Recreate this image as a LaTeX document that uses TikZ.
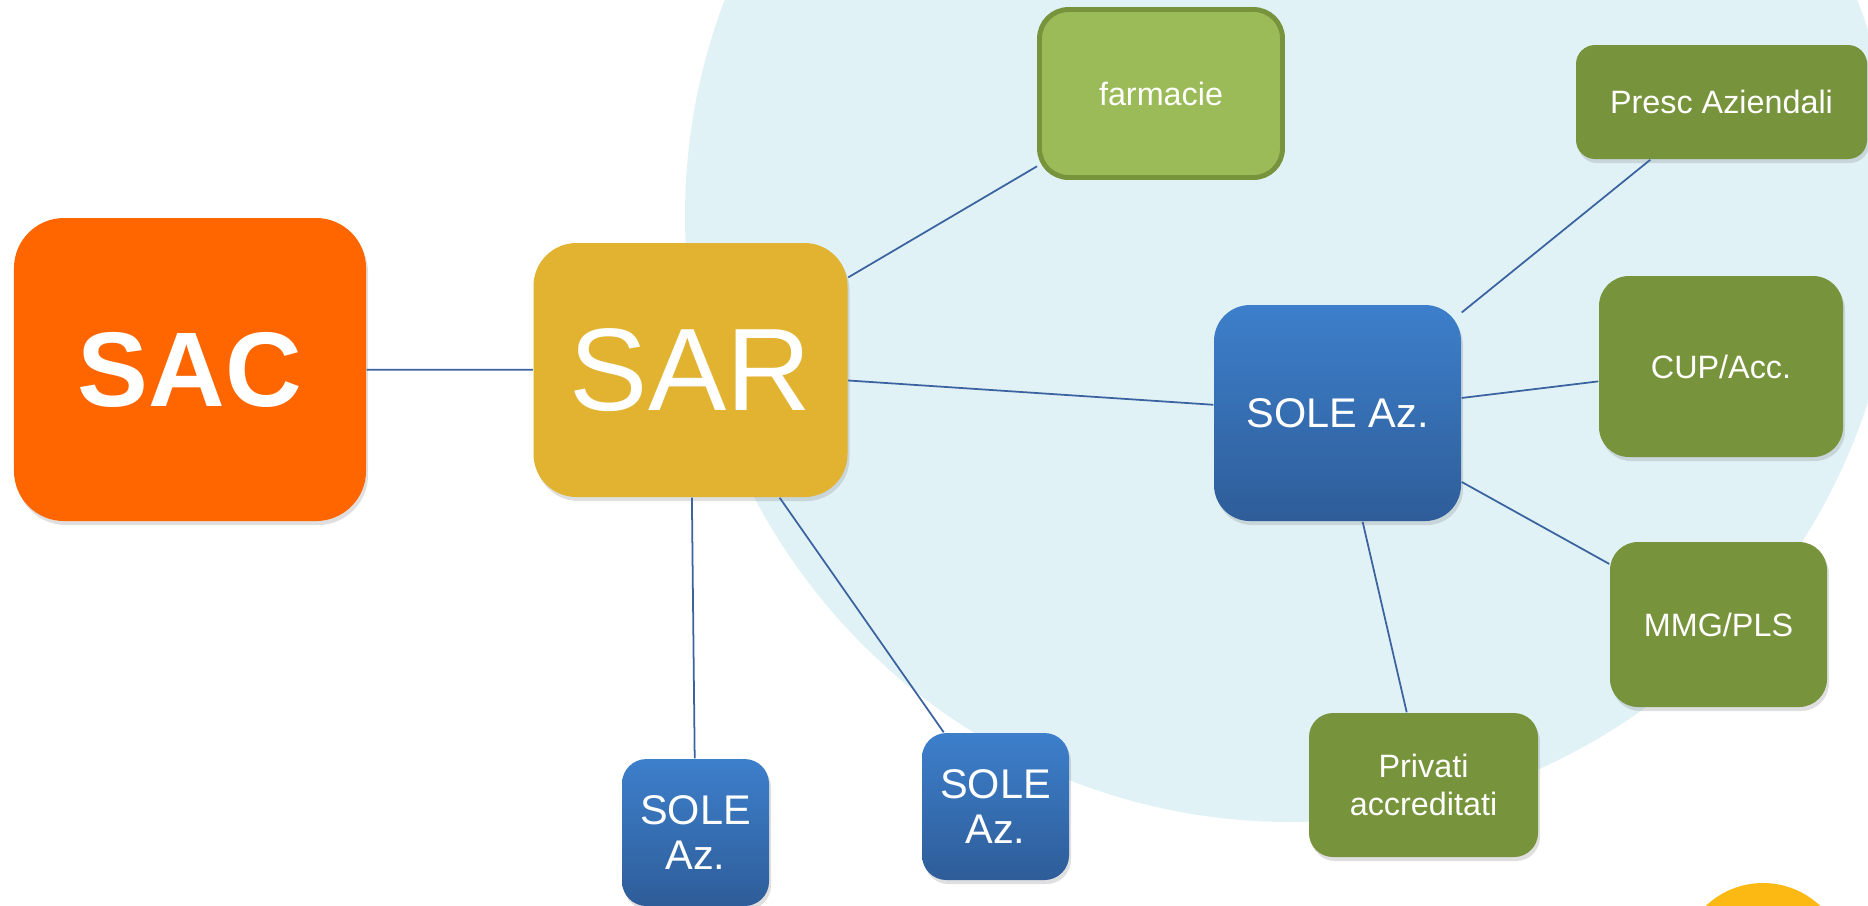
\documentclass[tikz,border=0pt]{standalone}
\usepackage{fontspec}
\setmainfont{Liberation Sans}
\usetikzlibrary{shadows}

\definecolor{sacorange}{HTML}{FF6600}
\definecolor{sargold}{HTML}{E1B331}
\definecolor{soletop}{HTML}{3D7FCB}
\definecolor{solebot}{HTML}{2E5D99}
\definecolor{leafgreen}{HTML}{77933C}
\definecolor{lightgreen}{HTML}{9BBB59}
\definecolor{haze}{HTML}{E1F2F7}
\definecolor{linkblue}{HTML}{3A63A0}
\definecolor{sunny}{HTML}{FDB913}

\begin{document}
\begin{tikzpicture}[
  plainbox/.style = {rectangle, inner sep=0pt, text=white, align=center},
  box/.style = {plainbox, drop shadow={shadow xshift=0.02cm, shadow yshift=-0.04cm, opacity=0.25}},
  solebox/.style = {box, top color=soletop, bottom color=solebot},
  greenbox/.style = {box, fill=leafgreen, font=\fontsize{9.2}{11}\selectfont},
  link/.style = {draw=linkblue, line width=0.5pt}]

% frame of the slide
\useasboundingbox (0,0) rectangle (18.68,-9.05);
\clip (0,0) rectangle (18.68,-9.05);

% background discs
\coordinate (hc) at (12.91,-2.16);
\coordinate (sc) at (17.63,-9.66);
\fill[haze] (hc) circle (6.06);
\fill[sunny] (sc) circle (0.83);

% regional level
\node[box, fill=sacorange, minimum width=3.52cm, minimum height=3.03cm, rounded corners=0.5cm,
  font=\bfseries\fontsize{30.2}{36}\selectfont] (sac) at (1.90,-3.695) {SAC};
\node[box, fill=sargold, minimum width=3.14cm, minimum height=2.54cm, rounded corners=0.43cm,
  font=\fontsize{33.4}{40}\selectfont] (sar) at (6.905,-3.70) {SAR};

% aziende
\node[solebox, minimum width=2.47cm, minimum height=2.16cm, rounded corners=0.36cm,
  font=\fontsize{11.8}{14}\selectfont] (soleaz) at (13.375,-4.13) {SOLE Az.};
\node[solebox, minimum size=1.47cm, rounded corners=0.245cm,
  font=\fontsize{11.8}{13}\selectfont] (solea) at (6.955,-8.325) {SOLE\\Az.};
\node[solebox, minimum size=1.47cm, rounded corners=0.245cm,
  font=\fontsize{11.8}{13}\selectfont] (soleb) at (9.955,-8.065) {SOLE\\Az.};

% farmacie
\node[plainbox, fill=lightgreen, draw=leafgreen, line width=1.4pt, minimum width=2.43cm,
  minimum height=1.68cm, rounded corners=0.29cm, font=\fontsize{9.2}{11}\selectfont] (farm) at (11.61,-0.935) {farmacie};

% prescrittori
\node[greenbox, minimum width=2.91cm, minimum height=1.14cm, rounded corners=0.19cm] (presc) at (17.215,-1.02) {Presc Aziendali};
\node[greenbox, minimum width=2.44cm, minimum height=1.81cm, rounded corners=0.3cm] (cup) at (17.21,-3.665) {CUP/Acc.};
\node[greenbox, minimum width=2.17cm, minimum height=1.65cm, rounded corners=0.28cm] (mmg) at (17.185,-6.245) {MMG/PLS};
\node[greenbox, minimum width=2.29cm, minimum height=1.44cm, rounded corners=0.24cm] (priv) at (14.235,-7.85) {Privati\\accreditati};

% links
\draw[link] (sac) -- (sar);
\draw[link] (sar) -- (farm);
\draw[link] (sar) -- (soleaz);
\draw[link] (sar) -- (solea);
\draw[link] (sar) -- (soleb);
\draw[link] (soleaz) -- (presc);
\draw[link] (soleaz) -- (cup);
\draw[link] (soleaz) -- (mmg);
\draw[link] (soleaz) -- (priv);
\end{tikzpicture}
\end{document}
